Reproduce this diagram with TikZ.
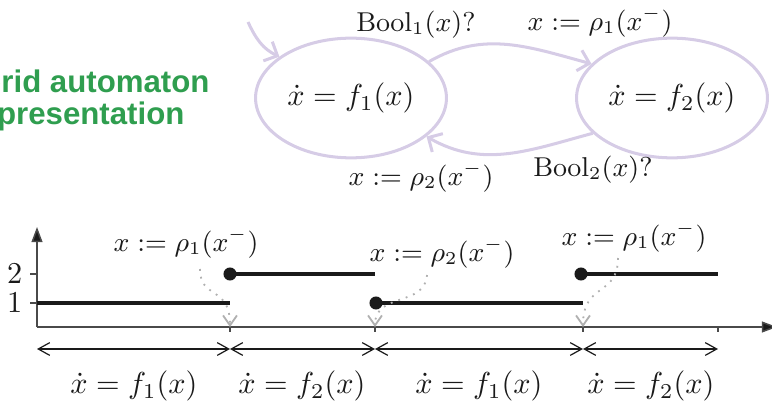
\documentclass[tikz,border=0pt]{standalone}
\usepackage{fontspec}
\usetikzlibrary{arrows.meta,positioning,shapes.geometric,calc}
\newfontfamily\blurbsans{Liberation Sans}
\definecolor{autoLav}{HTML}{D6CCE6}
\definecolor{hybGreen}{HTML}{2F9E4F}
\definecolor{inkBlack}{HTML}{1A1A1A}
\definecolor{axisGray}{HTML}{4A4A4A}
\definecolor{jumpGray}{HTML}{B0B0B0}

\begin{document}
\begin{tikzpicture}[
  x=0.33pt, y=0.33pt,
  line width=0.4pt,
  every node/.style={inner sep=1pt, text=inkBlack},
  % --- Reusable styles -------------------------------------------------------
  location/.style={              % discrete mode of the automaton
    ellipse, draw=autoLav, line width=1pt,
    minimum width=63pt, minimum height=39.5pt,
  },
  trans/.style={-{Straight Barb[length=3.5pt,width=7pt]}, draw=autoLav, line width=1pt},
  guard/.style={font=\fontsize{9}{11}\selectfont},
  blurb/.style={font=\blurbsans\bfseries\fontsize{10.3}{9.4}\selectfont,
    text=hybGreen, align=center},
  plotaxis/.style={draw=axisGray, line width=0.5pt},
  axistip/.style={-{Triangle[length=5pt,width=3.6pt,fill=inkBlack]}},
  modeline/.style={draw=inkBlack, line width=1pt},
  jumpdot/.style={circle, fill=inkBlack, inner sep=0pt, minimum size=4.3pt},
  jump/.style={-{Straight Barb[length=3.3pt,width=4.6pt]}, draw=jumpGray,
    dotted, line width=0.6pt},
  phase/.style={{Straight Barb[length=3.8pt,width=4.2pt]}-{Straight Barb[length=3.8pt,width=4.2pt]},
    draw=inkBlack, line width=0.4pt},
]
\useasboundingbox (0,0) rectangle (772,407);

% --- Automaton ---------------------------------------------------------------
\node[blurb] (title) at (76,307) {Hybrid automaton\\representation};
\node[location] (m1) at (351,309) {$\dot x = f_1(x)$};
\node[location] (m2) at (672,309) {$\dot x = f_2(x)$};
\coordinate (init) at (248,385);

\draw[trans] (init) to[out=-65,in=155] (m1.150);
\draw[trans] (m1.25) to[out=30,in=165] (m2.157);
\draw[trans] (m2.204) to[out=195,in=-30] (m1.333);

\node[guard] (g1) at (416,382) {$\mathrm{Bool}_1(x)?$};
\node[guard] (r1) at (600,385) {$x := \rho_1(x^-)$};
\node[guard] (r2) at (421,230) {$x := \rho_2(x^-)$};
\node[guard] (g2) at (593,237) {$\mathrm{Bool}_2(x)?$};

% --- Time plot ---------------------------------------------------------------
\coordinate (O)    at (37,80);
\coordinate (ytop) at (37,180);
\coordinate (xend) at (777,80);
\draw[plotaxis, axistip] (O) -- (ytop);
\draw[plotaxis, axistip] (O) -- (xend);

\foreach \v/\y in {1/104,2/133} {
  \draw[plotaxis] (30,\y) -- (37,\y);
  \node[anchor=east] at (26,\y) {$\v$};
}

\coordinate (p0) at (37,58);
\foreach \t [count=\i] in {230,375,583,718} {
  \coordinate (s\i) at (\t,80);
  \coordinate (p\i) at (\t,58);
  \draw[plotaxis] (s\i) -- ++(0,-5);
}

\draw[modeline] (O |- 0,104) -- (230,104);
\node[jumpdot] (d1) at (230,133) {};
\draw[modeline] (d1.center) -- (375,133);
\node[jumpdot] (d2) at (376,104) {};
\draw[modeline] (d2.center) -- (583,104);
\node[jumpdot] (d3) at (581,133) {};
\draw[modeline] (d3.center) -- (718,133);

% --- Reset labels and jumps ----------------------------------------------------
\node[guard] (j1) at (186,164) {$x := \rho_1(x^-)$};
\node[guard] (j2) at (442,154) {$x := \rho_2(x^-)$};
\node[guard] (j3) at (634,170) {$x := \rho_1(x^-)$};
\coordinate (j1s) at (200,138);
\coordinate (j2s) at (427,132);
\coordinate (j3s) at (618,149);
\draw[jump] (j1s) .. controls +(0,-31) and +(0,42) .. (s1);
\draw[jump] (j2s) .. controls +(-2,-32) and +(0,35) .. (s2);
\draw[jump] (j3s) .. controls +(0,-39) and +(0,45) .. (s3);

% --- Phases ------------------------------------------------------------------
\draw[phase] (p0) -- (p1);
\draw[phase] (p1) -- (p2);
\draw[phase] (p2) -- (p3);
\draw[phase] (p3) -- (p4);
\node (f1a) at (134,21) {$\dot x = f_1(x)$};
\node (f2a) at (302,21) {$\dot x = f_2(x)$};
\node (f1b) at (479,21) {$\dot x = f_1(x)$};
\node (f2b) at (651,21) {$\dot x = f_2(x)$};

\end{tikzpicture}
\end{document}
